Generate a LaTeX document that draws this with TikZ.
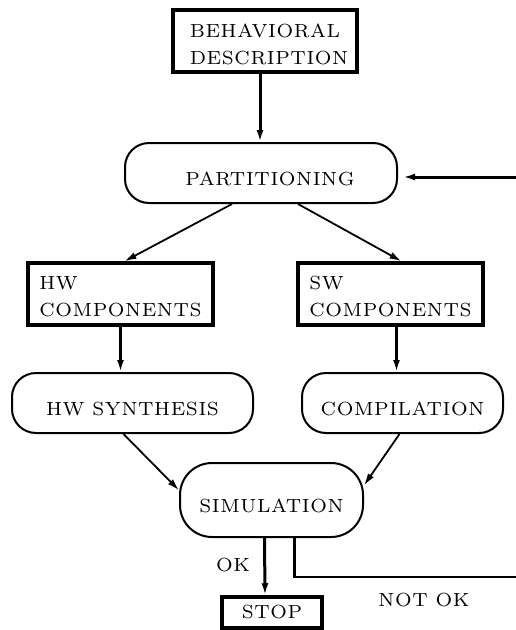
\documentclass[tikz,border=0pt]{standalone}
\usepackage{fontspec}
\setmainfont{lmroman7-regular.otf}[LetterSpace=3]
\usepackage{tikz}
\usetikzlibrary{arrows.meta}

\begin{document}
\begin{tikzpicture}[x=1pt, y=-1pt, >={Latex[length=12pt,width=7pt]},
  font=\fontsize{19}{27}\selectfont,
  block/.style={draw, line width=3.5pt, minimum height=62pt, align=left, inner sep=0pt},
  rblock/.style={draw, line width=2pt, rounded corners=24pt, minimum height=60pt, inner sep=0pt,
    text height=24pt, text depth=0pt},
  thickarr/.style={->, line width=3pt},
  thinarr/.style={->, line width=1.8pt}]

\useasboundingbox (0,0) rectangle (516,630);

% ---- top: description and partitioning ---------------------------------------------
\node[block, minimum width=184pt] (desc) at (265,41)
  {\rule{0pt}{21pt}\hspace*{8pt}BEHAVIORAL\\\hspace*{8pt}DESCRIPTION};
\node[rblock, minimum width=272pt] (part) at (261,173) {\hspace*{18pt}PARTITIONING};
\coordinate (back) at (516,177);

% ---- hw and sw components ----------------------------------------------------------
\node[block, minimum width=185pt] (hw) at (120.5,294) {\rule{0pt}{19pt}HW\\COMPONENTS};
\node[block, minimum width=185pt] (sw) at (390.5,294) {\rule{0pt}{19pt}SW\\COMPONENTS};

% ---- synthesis and compilation -----------------------------------------------------
\node[rblock, minimum width=241pt] (hws) at (132.5,403) {HW SYNTHESIS};
\node[rblock, minimum width=201pt] (comp) at (402.5,403) {COMPILATION};

% ---- simulation and stop -----------------------------------------------------------
\node[rblock, minimum width=183pt, minimum height=74pt, rounded corners=32pt] (sim) at (271.5,500) {SIMULATION};
\node[block, minimum width=100pt, minimum height=31pt] (stop) at (272,612.5) {STOP};
\coordinate (out) at (516,577);

\node (ok) at (233,565) {OK};
\node (notok) at (424,600) {NOT OK};

\draw[thickarr] ([xshift=-5pt]desc.south) -- ([xshift=-5pt]desc.south |- part.north);
\draw[thickarr, shorten >=5pt] (back) -- (back -| part.east);
\draw[thinarr] ([xshift=-29pt]part.south) -- ([xshift=4pt]hw.north);
\draw[thinarr] ([xshift=37pt]part.south) -- ([xshift=11pt]sw.north);
\draw[thickarr] (hw.south) -- (hw.south |- hws.north);
\draw[thickarr] ([xshift=6pt]sw.south) -- ([xshift=6pt]sw.south |- comp.north);
\draw[thinarr] ([xshift=-9pt]hws.south) -- (sim.174);
\draw[thinarr] ([xshift=-3pt]comp.south) -- (sim.9);
\draw[thickarr] ([xshift=-7pt]sim.south) -- ([xshift=-7pt]stop.north);
\draw[line width=2.7pt] ([xshift=23pt]sim.south) |- (out);

\end{tikzpicture}
\end{document}
